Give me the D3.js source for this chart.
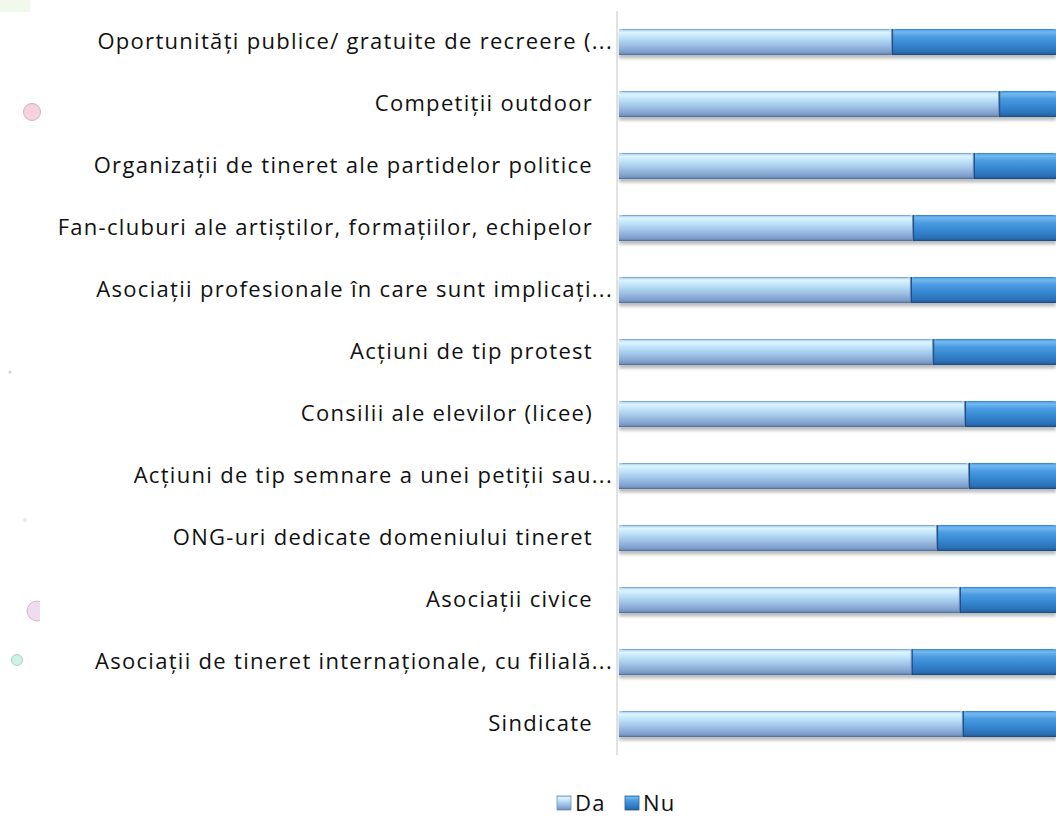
<!DOCTYPE html>
<html>
<head>
<meta charset="utf-8">
<script src="https://cdn.jsdelivr.net/npm/d3@7"></script>
<style>
  html, body { margin: 0; padding: 0; background: #fff; }
  svg { display: block; }
</style>
</head>
<body>
<div id="chart"></div>
<script>
// categories, top to bottom
const categories = [
  'Oportunități publice/ gratuite de recreere (...',
  'Competiții outdoor',
  'Organizații de tineret ale partidelor politice',
  'Fan-cluburi ale artiștilor, formațiilor, echipelor',
  'Asociații profesionale în care sunt implicați...',
  'Acțiuni de tip protest',
  'Consilii ale elevilor (licee)',
  'Acțiuni de tip semnare a unei petiții sau...',
  'ONG-uri dedicate domeniului tineret',
  'Asociații civice',
  'Asociații de tineret internaționale, cu filială...',
  'Sindicate'
];
// share of answers (%)
const da = [62.5, 87.0, 81.2, 67.3, 66.8, 71.9, 79.2, 80.1, 72.8, 78.0, 67.0, 78.7];
const nu = [37.5, 13.0, 18.8, 32.7, 33.2, 28.1, 20.8, 19.9, 27.2, 22.0, 33.0, 21.3];
const seriesNames = ['Da', 'Nu'];

const width = 1056, height = 818;
const margin = {top: 11, right: 0, bottom: 63, left: 619};
const font = '"Open Sans", Roboto, sans-serif';

const svg = d3.select('#chart').append('svg')
  .attr('width', width)
  .attr('height', height);

const defs = svg.append('defs');

function vGrad(id, stops) {
  const g = defs.append('linearGradient')
    .attr('id', id)
    .attr('x1', 0).attr('y1', 0).attr('x2', 0).attr('y2', 1);
  stops.forEach(s => g.append('stop').attr('offset', s[0]).attr('stop-color', s[1]));
}
vGrad('g-da', [[0, '#9cc3ea'], [0.12, '#ddf5ff'], [0.3, '#c2e5fb'], [0.6, '#9fc2e7'], [0.88, '#7f9fcb'], [1, '#5e7fae']]);
vGrad('g-nu', [[0, '#4f9ee2'], [0.12, '#70b8f1'], [0.3, '#4b9be0'], [0.6, '#3487d0'], [0.88, '#2b6fb6'], [1, '#1f5592']]);

const shadow = defs.append('filter').attr('id', 'shadow')
  .attr('x', '-5%').attr('y', '-50%').attr('width', '110%').attr('height', '200%');
shadow.append('feGaussianBlur').attr('stdDeviation', 1.8);

// pale decorations on the left side
const deco = svg.append('g').attr('class', 'deco');
deco.append('rect').attr('x', 0).attr('y', 0).attr('width', 30).attr('height', 12).attr('fill', '#f1f8ec');
deco.append('circle').attr('cx', 32).attr('cy', 112).attr('r', 8.5).attr('fill', '#f8d3de').attr('stroke', '#c9a3b0').attr('stroke-width', 0.8);
deco.append('clipPath').attr('id', 'halfclip').append('rect').attr('x', 0).attr('y', 590).attr('width', 40).attr('height', 40);
deco.append('circle').attr('cx', 37).attr('cy', 611).attr('r', 10).attr('fill', '#efdcef').attr('stroke', '#c7afc7').attr('stroke-width', 0.8).attr('clip-path', 'url(#halfclip)');
deco.append('circle').attr('cx', 17).attr('cy', 660).attr('r', 5.5).attr('fill', '#cdf3e6').attr('stroke', '#9ac4b5').attr('stroke-width', 0.8);
deco.append('circle').attr('cx', 10).attr('cy', 372).attr('r', 1.5).attr('fill', '#cfcfcf');
deco.append('circle').attr('cx', 25).attr('cy', 520).attr('r', 1.3).attr('fill', 'none').attr('stroke', '#c8c8c8').attr('stroke-width', 0.6);

const y = d3.scaleBand()
  .domain(categories)
  .range([margin.top, height - margin.bottom])
  .paddingInner(0.58)
  .paddingOuter(0.29);

const x = d3.scaleLinear()
  .domain([0, 100])
  .range([margin.left, width - margin.right]);

const rows = categories.map((c, i) => ({name: c, da: da[i], nu: nu[i]}));
const stack = d3.stack().keys(['da', 'nu'])(rows);
const fills = {da: 'url(#g-da)', nu: 'url(#g-nu)'};
const edges = {da: '#56759f', nu: '#1c4f87'};

// shadows under bars
svg.append('g').selectAll('rect')
  .data(rows)
  .join('rect')
  .attr('x', x(0))
  .attr('y', d => y(d.name) + 3.5)
  .attr('width', x(100) - x(0))
  .attr('height', y.bandwidth())
  .attr('fill', '#808080')
  .attr('opacity', 0.5)
  .attr('filter', 'url(#shadow)');

const layer = svg.append('g').selectAll('g')
  .data(stack)
  .join('g');

const seg = layer.selectAll('g')
  .data(s => s.map(d => ({key: s.key, name: d.data.name, x0: d[0], x1: d[1]})))
  .join('g');

seg.append('rect')
  .attr('x', d => x(d.x0))
  .attr('y', d => y(d.name))
  .attr('width', d => x(d.x1) - x(d.x0))
  .attr('height', y.bandwidth())
  .attr('fill', d => fills[d.key]);

// bevel: thin top highlight and darker end/bottom edges
seg.append('line')
  .attr('x1', d => x(d.x0) + 3).attr('x2', d => x(d.x1) - 3)
  .attr('y1', d => y(d.name) + 0.5).attr('y2', d => y(d.name) + 0.5)
  .attr('stroke', d => d.key === 'da' ? '#7fa8d6' : '#3f86c8')
  .attr('stroke-width', 1);
seg.append('line')
  .attr('x1', d => x(d.x0)).attr('x2', d => x(d.x1))
  .attr('y1', d => y(d.name) + y.bandwidth() - 0.5).attr('y2', d => y(d.name) + y.bandwidth() - 0.5)
  .attr('stroke', d => edges[d.key])
  .attr('stroke-width', 1);
seg.filter(d => d.key === 'da').append('line')
  .attr('x1', d => x(d.x1) - 0.5).attr('x2', d => x(d.x1) - 0.5)
  .attr('y1', d => y(d.name)).attr('y2', d => y(d.name) + y.bandwidth())
  .attr('stroke', '#6b89b4')
  .attr('stroke-width', 1);
seg.filter(d => d.key === 'nu').append('line')
  .attr('x1', d => x(d.x0) + 0.5).attr('x2', d => x(d.x0) + 0.5)
  .attr('y1', d => y(d.name)).attr('y2', d => y(d.name) + y.bandwidth())
  .attr('stroke', '#1c4a80')
  .attr('stroke-width', 1);

// category axis
const yAxis = svg.append('g')
  .attr('transform', 'translate(' + (margin.left - 2) + ',0)')
  .call(d3.axisLeft(y).tickSize(0).tickPadding(5));
yAxis.select('.domain').attr('stroke', '#d9d9d9').attr('stroke-width', 1.5)
  .attr('d', 'M0,' + margin.top + 'V' + (height - margin.bottom));
yAxis.selectAll('text')
  .attr('font-family', font)
  .attr('font-size', 22)
  .attr('letter-spacing', 1.3)
  .attr('fill', '#111')
  // full labels keep a trailing gap before the axis, cut labels do not
  .attr('x', d => d.endsWith('...') ? -4 : -24);

// legend
const legend = svg.append('g').attr('transform', 'translate(557,803)');
const items = legend.selectAll('g')
  .data(seriesNames)
  .join('g')
  .attr('transform', (d, i) => 'translate(' + (i * 68) + ',0)');
items.append('rect')
  .attr('x', 0).attr('y', -7)
  .attr('width', 14).attr('height', 14)
  .attr('fill', (d, i) => i === 0 ? 'url(#g-da)' : 'url(#g-nu)')
  .attr('stroke', (d, i) => i === 0 ? '#6f8fb8' : '#2a5f9a')
  .attr('stroke-width', 0.8);
items.append('text')
  .attr('x', 18).attr('y', 0)
  .attr('dy', '0.35em')
  .attr('font-family', font)
  .attr('font-size', 22)
  .attr('letter-spacing', 1.3)
  .attr('fill', '#111')
  .text(d => d);
</script>
</body>
</html>
